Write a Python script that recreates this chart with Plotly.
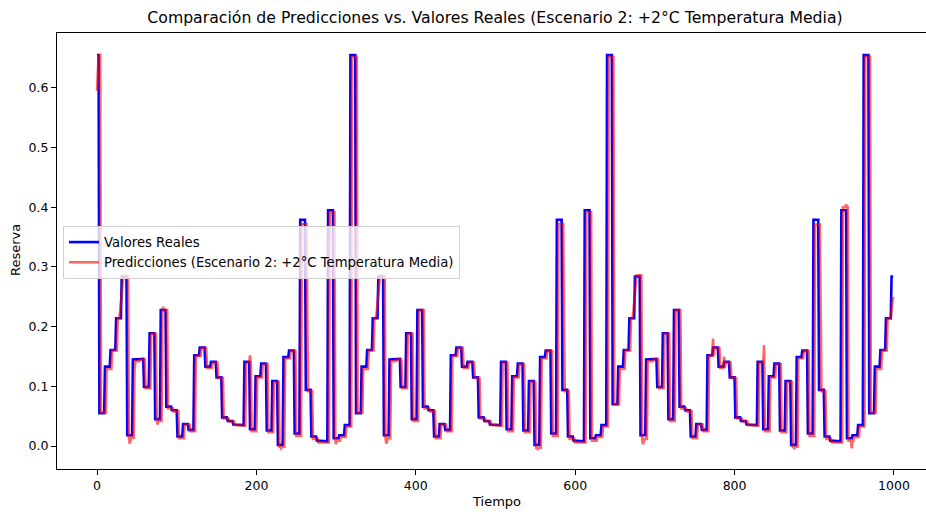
import numpy as np
import plotly.graph_objects as go

# ---- data (step levels, one per 7-sample block) ----
real_levels = [
    # period 1
    0.655, 0.055, 0.133, 0.161, 0.214, 0.284, 0.018, 0.145, 0.146, 0.099,
    0.189, 0.045, 0.228, 0.066, 0.060, 0.016, 0.037, 0.027, 0.152, 0.165,
    0.133, 0.141, 0.115, 0.048, 0.042, 0.036, 0.035, 0.141, 0.028, 0.117,
    0.138, 0.026, 0.109, 0.002, 0.149, 0.160, 0.021, 0.379, 0.094, 0.016,
    0.009, 0.008, 0.395, 0.013, 0.018, 0.035,
    # period 2
    0.655, 0.055, 0.133, 0.161, 0.214, 0.284, 0.018, 0.145, 0.146, 0.099,
    0.189, 0.045, 0.228, 0.066, 0.060, 0.016, 0.037, 0.027, 0.152, 0.165,
    0.133, 0.141, 0.115, 0.048, 0.042, 0.036, 0.035, 0.141, 0.028, 0.117,
    0.138, 0.026, 0.109, 0.002, 0.149, 0.160, 0.021, 0.379, 0.094, 0.016,
    0.009, 0.008, 0.395, 0.013, 0.018, 0.035,
    # period 3
    0.655, 0.070, 0.133, 0.161, 0.214, 0.284, 0.018, 0.145, 0.146, 0.099,
    0.189, 0.045, 0.228, 0.066, 0.060, 0.016, 0.037, 0.027, 0.152, 0.165,
    0.133, 0.141, 0.115, 0.048, 0.042, 0.036, 0.035, 0.141, 0.028, 0.117,
    0.138, 0.026, 0.109, 0.002, 0.149, 0.160, 0.021, 0.379, 0.094, 0.016,
    0.009, 0.008, 0.395, 0.013, 0.018, 0.035,
    # tail
    0.655, 0.055, 0.133, 0.161, 0.214, 0.284,
]

pred_levels = [
    # period 1
    0.655, 0.056, 0.129, 0.160, 0.214, 0.285, 0.014, 0.142, 0.145, 0.097,
    0.188, 0.042, 0.228, 0.063, 0.058, 0.013, 0.036, 0.025, 0.151, 0.164,
    0.131, 0.140, 0.114, 0.046, 0.041, 0.035, 0.034, 0.140, 0.025, 0.115,
    0.137, 0.023, 0.107, -0.001, 0.147, 0.159, 0.017, 0.372, 0.092, 0.012,
    0.006, 0.006, 0.392, 0.009, 0.015, 0.033,
    # period 2
    0.652, 0.056, 0.129, 0.160, 0.214, 0.285, 0.013, 0.142, 0.145, 0.097,
    0.188, 0.042, 0.228, 0.063, 0.058, 0.013, 0.036, 0.025, 0.151, 0.164,
    0.131, 0.140, 0.114, 0.046, 0.041, 0.035, 0.034, 0.140, 0.025, 0.115,
    0.137, 0.023, 0.107, -0.003, 0.147, 0.159, 0.017, 0.372, 0.092, 0.012,
    0.006, 0.006, 0.392, 0.009, 0.015, 0.033,
    # period 3
    0.652, 0.070, 0.129, 0.160, 0.214, 0.286, 0.012, 0.142, 0.145, 0.097,
    0.188, 0.042, 0.228, 0.063, 0.058, 0.013, 0.036, 0.025, 0.151, 0.164,
    0.131, 0.140, 0.114, 0.046, 0.041, 0.035, 0.034, 0.140, 0.025, 0.115,
    0.137, 0.023, 0.107, -0.001, 0.147, 0.159, 0.017, 0.371, 0.092, 0.012,
    0.006, 0.006, 0.400, 0.009, 0.015, 0.033,
    # tail
    0.652, 0.056, 0.129, 0.160, 0.214, 0.260,
]

# individual prediction samples that stand out (ramps, spikes, dips)
pred_fix_idx = [0, 1, 29, 30, 31, 32, 41, 42, 47, 76, 83, 192, 231, 264, 300,
                351, 352, 353, 354, 363, 364, 553, 586,
                673, 674, 675, 676, 685, 686, 773, 787, 837, 875, 908, 940, 947,
                997, 998, 999]
pred_fix_val = [0.595, 0.640, 0.225, 0.240, 0.255, 0.270, 0.004, 0.008, 0.125, 0.036, 0.233, 0.152, -0.004, 0.200, 0.003,
                0.225, 0.240, 0.255, 0.270, 0.004, 0.008, -0.005, 0.200,
                0.225, 0.240, 0.255, 0.270, 0.003, 0.007, 0.180, 0.150, 0.169, -0.005, 0.230, 0.405, -0.004,
                0.230, 0.245, 0.250]

x_ticks = [0, 200, 400, 600, 800, 1000]
y_ticks = [0.0, 0.1, 0.2, 0.3, 0.4, 0.5, 0.6]

n_points = 1000
block = 7
real_first = 3
pred_first = 5


def expand(levels, first):
    counts = [first] + [block] * (len(levels) - 1)
    return np.repeat(np.array(levels, dtype=float), counts)[:n_points]


t = np.arange(n_points)
real = expand(real_levels, real_first)
pred = expand(pred_levels, pred_first)
pred[np.array(pred_fix_idx)] = np.array(pred_fix_val)

fig = go.Figure()
fig.add_trace(go.Scatter(x=t, y=real, mode="lines", name="Valores Reales",
                         line=dict(color="#0000ff", width=2.6)))
fig.add_trace(go.Scatter(x=t, y=pred, mode="lines",
                         name="Predicciones (Escenario 2: +2°C Temperatura Media)",
                         line=dict(color="rgba(255,0,0,0.6)", width=2.6)))

W, H = 926, 514
L, R, T, B = 57, 0, 33, 45
pw, ph = W - L - R, H - T - B

fig.update_layout(
    width=W, height=H,
    margin=dict(l=L, r=R, t=T, b=B),
    paper_bgcolor="white", plot_bgcolor="white",
    font=dict(family="DejaVu Sans", size=12, color="black"),
    showlegend=True,
    legend=dict(x=(63 - L) / pw, y=(H - B - 226) / ph, xanchor="left", yanchor="top",
                bgcolor="rgba(255,255,255,0.8)", bordercolor="#d0d0d0", borderwidth=1,
                font=dict(size=13.2), itemwidth=30, tracegroupgap=0),
    title=dict(text="Comparación de Predicciones vs. Valores Reales (Escenario 2: +2°C Temperatura Media)",
               x=495 / W, xanchor="center",
               y=1 - 18 / H, yanchor="middle", yref="container",
               font=dict(size=15.7, color="black")),
    xaxis=dict(range=[-50.2, 1040.2], tickvals=x_ticks, ticktext=[str(v) for v in x_ticks],
               showgrid=False, zeroline=False, showline=True, linecolor="black", linewidth=1,
               mirror=True, ticks="outside", ticklen=5, tickwidth=1, tickcolor="black",
               tickfont=dict(size=12.5)),
    yaxis=dict(range=[-0.0385, 0.692], tickvals=y_ticks, ticktext=[f"{v:.1f}" for v in y_ticks],
               showgrid=False, zeroline=False, showline=True, linecolor="black", linewidth=1,
               ticks="outside", ticklen=5, tickwidth=1, tickcolor="black",
               tickfont=dict(size=12.5)),
    annotations=[
        dict(text="Tiempo", x=(496 - L) / pw, y=(H - B - 501) / ph, xref="paper", yref="paper",
             xanchor="center", yanchor="middle", showarrow=False, font=dict(size=13)),
        dict(text="Reserva", x=(16 - L) / pw, y=(H - B - 250) / ph, xref="paper", yref="paper",
             xanchor="center", yanchor="middle", textangle=-90, showarrow=False, font=dict(size=13)),
    ],
)

fig.write_html("out.html", config={"displayModeBar": False},
               post_script="document.body.style.margin='0px';")
